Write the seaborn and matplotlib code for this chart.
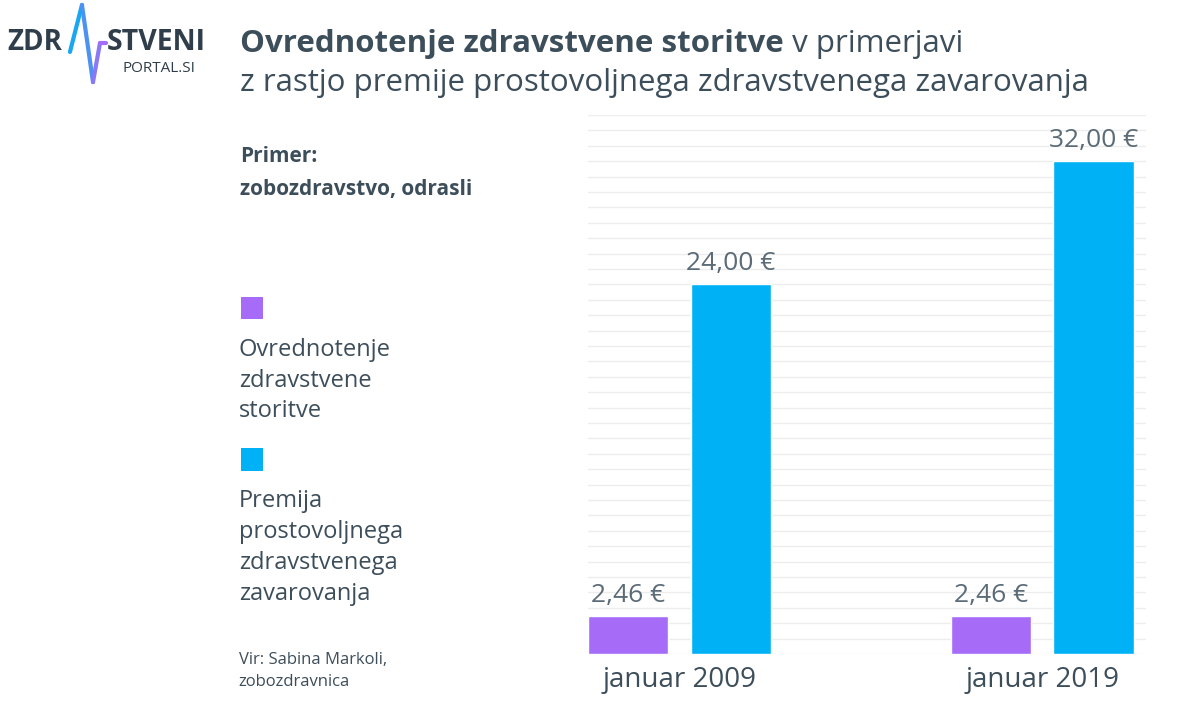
import matplotlib
matplotlib.use("Agg")
import matplotlib.pyplot as plt
import seaborn as sns
import numpy as np
import pandas as pd

# data
periods = ["januar 2009", "januar 2019"]
series = ["Ovrednotenje zdravstvene storitve", "Premija prostovoljnega zdravstvenega zavarovanja"]
ovrednotenje = [2.46, 2.46]
premija = [24.00, 32.00]
legend_labels = ["Ovrednotenje\nzdravstvene\nstoritve", "Premija\nprostovoljnega\nzdravstvenega\nzavarovanja"]

PURPLE = "#a66cf7"
BLUE = "#00b1f6"
TEXT = "#3d4e5b"
LIGHT_TEXT = "#5b6b77"

df = pd.DataFrame({
    "obdobje": periods * 2,
    "serija": [series[0]] * 2 + [series[1]] * 2,
    "vrednost": ovrednotenje + premija,
})

sns.set_theme(style="white")
plt.rcParams["font.family"] = ["Open Sans", "DejaVu Sans"]

fig = plt.figure(figsize=(12, 7.08), dpi=100)
ax = fig.add_axes([0.49, 0.0763, 0.465, 0.7613])

sns.barplot(df, x="obdobje", y="vrednost", hue="serija", palette=[PURPLE, BLUE],
            width=0.567, gap=0.22, legend=False, ax=ax, saturation=1)

ax.set_xlim(-0.2524, 1.2865)
ax.set_ylim(0, 35)
ax.set_yticks(np.arange(0, 36, 1))
ax.yaxis.grid(True, color="#ededed", linewidth=1)
ax.set_axisbelow(True)
ax.tick_params(axis="y", labelleft=False, length=0)
ax.tick_params(axis="x", length=0, pad=9, labelsize=20, labelcolor=TEXT)
for lbl in ax.get_xticklabels():
    lbl.set_fontweight("medium")
ax.set_xlabel("")
ax.set_ylabel("")
for s in ax.spines.values():
    s.set_visible(False)

for cont in ax.containers:
    ax.bar_label(cont, labels=[f"{v:.2f}".replace(".", ",") + " €" for v in cont.datavalues],
                 padding=6, fontsize=19, color=LIGHT_TEXT)

# title, bold part followed by regular part
renderer = fig.canvas.get_renderer()
t1 = fig.text(0.2, 0.926, "Ovrednotenje zdravstvene storitve", fontsize=22.5,
              fontweight="bold", color=TEXT, va="baseline")
bb = t1.get_window_extent(renderer=renderer)
x_end = bb.x1 / fig.bbox.width
fig.text(x_end, 0.926, " v primerjavi", fontsize=22.5, color=TEXT, va="baseline")
fig.text(0.2, 0.871, "z rastjo premije prostovoljnega zdravstvenega zavarovanja",
         fontsize=22.5, color=TEXT, va="baseline")

fig.text(0.2, 0.771, "Primer:", fontsize=15, fontweight="bold", color=TEXT, va="baseline")
fig.text(0.2, 0.7246, "zobozdravstvo, odrasli", fontsize=15, fontweight="bold", color=TEXT, va="baseline")

# legend drawn by hand
fig.patches.append(plt.Rectangle((0.2008, 0.549), 0.0183, 0.032, transform=fig.transFigure,
                                 facecolor=PURPLE, edgecolor="none"))
fig.text(0.199, 0.523, legend_labels[0], fontsize=17, color=TEXT, va="top", linespacing=1.38)
fig.patches.append(plt.Rectangle((0.2008, 0.335), 0.0183, 0.032, transform=fig.transFigure,
                                 facecolor=BLUE, edgecolor="none"))
fig.text(0.199, 0.309, legend_labels[1], fontsize=17, color=TEXT, va="top", linespacing=1.38)

fig.text(0.199, 0.079, "Vir: Sabina Markoli,\nzobozdravnica", fontsize=12, color=TEXT,
         va="top", linespacing=1.5)

# logo
fig.text(0.006, 0.93, "ZDR", fontsize=20, fontweight="bold", color="#2f3e4a", va="baseline")
fig.text(0.089, 0.93, "STVENI", fontsize=20.5, fontweight="bold", color="#2f3e4a", va="baseline")
fig.text(0.102, 0.898, "PORTAL.SI", fontsize=11, color="#2f3e4a", va="baseline")
px = np.array([0.0583, 0.0683, 0.0775, 0.0833, 0.0885])
py = np.array([0.9266, 0.993, 0.884, 0.939, 0.939])
pcols = ["#1aa6f1", "#4d91f3", "#8a78f6", "#a66cf7"]
for i in range(len(px) - 1):
    fig.add_artist(plt.Line2D(px[i:i + 2], py[i:i + 2], transform=fig.transFigure,
                              color=pcols[i], linewidth=3, solid_capstyle="round"))

fig.savefig("out.png", dpi=100, facecolor="white")
